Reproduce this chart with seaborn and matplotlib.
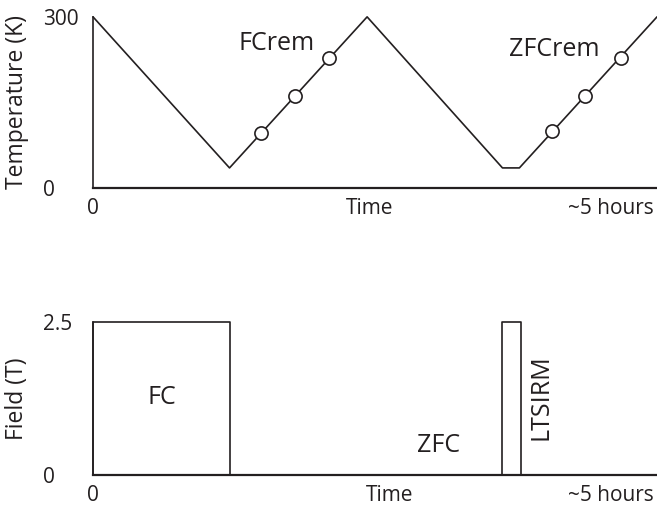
import seaborn as sns
import matplotlib.pyplot as plt

# --- temperature protocol (time in hours, T in K) ---
TEMP_TIME = [0, 1.21, 2.43, 3.63, 3.78, 5.0]
TEMP_K = [300, 35, 300, 35, 35, 300]
# remanence measurements on the warming ramps
FC_REM_TIME = [1.49, 1.79, 2.09]
FC_REM_K = [96, 161, 227]
ZFC_REM_TIME = [4.07, 4.36, 4.68]
ZFC_REM_K = [99, 161, 228]

# --- applied field (time in hours, B in T) ---
FIELD_TIME = [0, 0, 1.21, 1.21, 3.63, 3.63, 3.79, 3.79, 5.0]
FIELD_T = [0, 2.5, 2.5, 0, 0, 2.5, 2.5, 0, 0]

TOP_XTICKS = [0, 2.45, 4.59]
BOTTOM_XTICKS = [0, 2.63, 4.59]
XTICK_LABELS = ["0", "Time", "~5 hours"]
TEMP_YTICKS = [0, 300]
TEMP_YLABELS = ["0", "300"]
FIELD_YTICKS = [0, 2.5]
FIELD_YLABELS = ["0", "2.5"]

INK = "#231f20"

sns.set_style("white")
plt.rcParams['font.family'] = ['Open Sans', 'DejaVu Sans']
plt.rcParams['text.color'] = INK
plt.rcParams['axes.labelcolor'] = INK
plt.rcParams['xtick.color'] = INK
plt.rcParams['ytick.color'] = INK

fig = plt.figure(figsize=(6.57, 5.05), dpi=100)
ax1 = fig.add_axes([0.1416, 0.628, 0.8584, 0.3386])
ax2 = fig.add_axes([0.1416, 0.0594, 0.8584, 0.303])


def style_axis(ax, xticks, yticks, ylabels, ylabel):
    ax.set_xlim(0, 5.0)
    for s in ["top", "right"]:
        ax.spines[s].set_visible(False)
    ax.spines["bottom"].set_linewidth(1.6)
    ax.spines["left"].set_linewidth(1.2)
    ax.spines["bottom"].set_color(INK)
    ax.spines["left"].set_color(INK)
    ax.set_xticks(xticks)
    ax.set_xticklabels(XTICK_LABELS, fontsize=15)
    ax.set_yticks(yticks)
    ax.set_yticklabels(ylabels, fontsize=15, ha="left")
    ax.tick_params(axis="x", length=0, pad=7.5)
    ax.tick_params(axis="y", length=0, pad=36)
    ax.set_xlabel("")
    ax.set_ylabel(ylabel, fontsize=16.5, va="center")
    ax.yaxis.set_label_coords(-0.135, 0.5)


# top: temperature
sns.lineplot(x=TEMP_TIME, y=TEMP_K, ax=ax1, color=INK, linewidth=1.2,
             sort=False, estimator=None)
for t, k in [(FC_REM_TIME, FC_REM_K), (ZFC_REM_TIME, ZFC_REM_K)]:
    sns.scatterplot(x=t, y=k, ax=ax1, s=90, color="white", edgecolor=INK,
                    linewidth=1.2, zorder=5, clip_on=False)
for ln in ax1.lines:
    ln.set_clip_on(False)
ax1.set_ylim(0, 300)
style_axis(ax1, TOP_XTICKS, TEMP_YTICKS, TEMP_YLABELS, "Temperature (K)")
ax1.text(1.63, 254, "FCrem", fontsize=18, ha="center", va="center")
ax1.text(4.09, 242, "ZFCrem", fontsize=18, ha="center", va="center")

# bottom: field
sns.lineplot(x=FIELD_TIME, y=FIELD_T, ax=ax2, color=INK, linewidth=1.2,
             sort=False, estimator=None)
for ln in ax2.lines:
    ln.set_clip_on(False)
ax2.set_ylim(0, 2.5)
style_axis(ax2, BOTTOM_XTICKS, FIELD_YTICKS, FIELD_YLABELS, "Field (T)")
ax2.text(0.61, 1.26, "FC", fontsize=18, ha="center", va="center")
ax2.text(3.06, 0.49, "ZFC", fontsize=18, ha="center", va="center")
ax2.text(3.97, 1.27, "LTSIRM", fontsize=18, ha="center", va="center",
         rotation=90)

fig.savefig("out.png", dpi=100)
